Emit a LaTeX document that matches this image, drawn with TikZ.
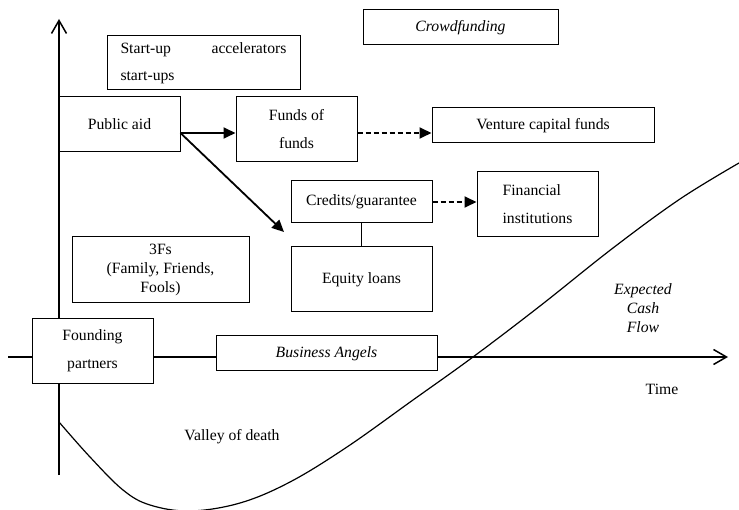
\documentclass[tikz,border=0pt]{standalone}
\usepackage{fontspec}
\setmainfont{Liberation Serif}
\usetikzlibrary{arrows.meta}
\begin{document}
\begin{tikzpicture}[x=1pt,y=-1pt,
  txt/.style={font=\fontsize{15.7}{19}\selectfont},
  box/.style={txt, draw, line width=1pt, fill=white, inner sep=0pt, align=center},
  axis/.style={line width=1.8pt, -{Straight Barb[length=13pt,width=15pt,line width=1.5pt]}},
  flow/.style={line width=1.8pt, -{Triangle[length=12pt,width=11pt]}},
  dflow/.style={flow, dash pattern=on 5pt off 3pt},
  lbl/.style={txt, align=center, inner sep=0pt}]
\useasboundingbox (0,0) rectangle (739,510);

% time and cash axes
\coordinate (origin) at (59,475);
\coordinate (ytip) at (59,19);
\coordinate (xstart) at (8,357);
\coordinate (xtip) at (728,357);
\draw[axis] (origin) -- (ytip);
\draw[axis] (xstart) -- (xtip);

% expected cash flow curve (valley of death)
\draw[line width=1.2pt] plot[smooth, tension=0.6] coordinates
  {(59,422) (90,457) (123,490) (150,505) (190,511) (240,503) (290,482)
   (347,447) (413,400) (473,357) (540,306) (613,248) (680,199) (739,163)};

% financing sources
\node[box, minimum width=193pt, minimum height=54pt, text width=166pt, align=left]
  (sua) at (203.5,63) {\makebox[166pt][s]{Start-up\hfill accelerators}\\[8pt]start-ups};
\node[box, minimum width=195pt, minimum height=35pt] (cf) at (460.5,27.5) {\itshape Crowdfunding};
\node[box, minimum width=121pt, minimum height=55pt] (pa) at (119.5,124.5) {Public aid};
\node[box, minimum width=121pt, minimum height=65pt] (fof) at (296.5,129.5) {Funds of\\[9pt]funds};
\node[box, minimum width=222pt, minimum height=35pt] (vc) at (543,125.5) {Venture capital funds};
\node[box, minimum width=141pt, minimum height=42pt] (cg) at (361.5,202) {Credits/guarantee};
\node[box, minimum width=141pt, minimum height=65pt] (eq) at (361.5,279.5) {Equity loans};
\node[box, minimum width=121pt, minimum height=65pt, align=left] (fi) at (537.5,204) {Financial\\[9pt]institutions};
\node[box, minimum width=177pt, minimum height=66pt] (f3) at (160.5,270) {3Fs\\(Family, Friends,\\Fools)};
\node[box, minimum width=121pt, minimum height=65pt] (fp) at (92.5,351) {Founding\\[9pt]partners};
\node[box, minimum width=221pt, minimum height=35pt] (ba) at (326.5,353.5) {\itshape Business Angels};

% labels
\node[lbl] (time) at (662,389) {Time};
\node[lbl] (valley) at (232,437) {Valley of death};
\node[lbl] (ecf) at (643,308) {\itshape Expected\\\itshape Cash\\\itshape Flow};

% connectors
\coordinate (pa-out) at (pa.east |- 0,133);
\coordinate (cg-in) at (284,232);
\draw[flow] (pa-out) -- (pa-out -| fof.west);
\draw[flow] (pa-out) -- (cg-in);
\draw[dflow] (fof.east |- pa-out) -- (vc.west |- pa-out);
\draw[dflow] (cg.east) -- (cg.east -| fi.west);
\draw[line width=1.8pt] (cg.south) -- (eq.north);
\end{tikzpicture}
\end{document}
